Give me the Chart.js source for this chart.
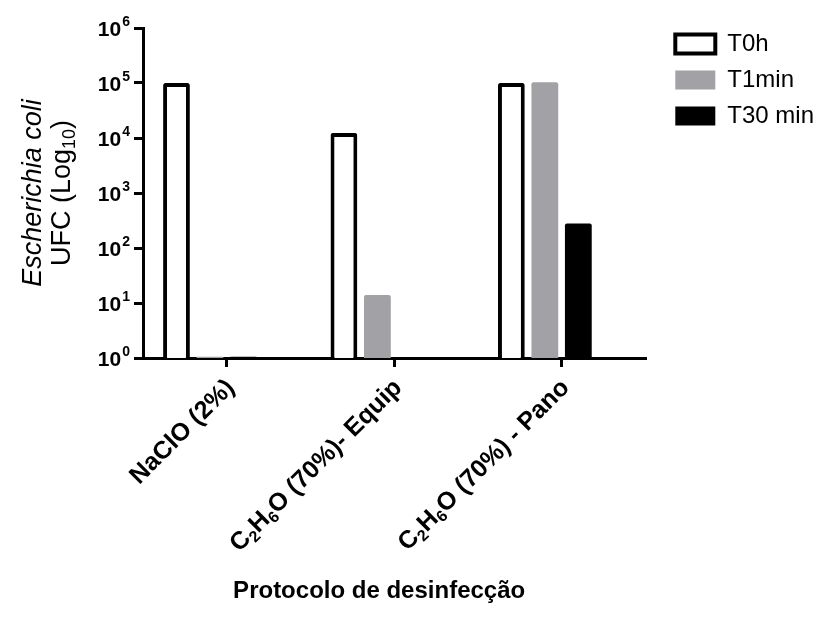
<!DOCTYPE html>
<html lang="pt">
<head>
  <meta charset="UTF-8">
  <title>Escherichia coli - Protocolo de desinfecção</title>
  <script src="https://cdn.jsdelivr.net/npm/chart.js"></script>
  <style>
    html, body { margin: 0; padding: 0; background: #fff; }
  </style>
</head>
<body>
  <canvas id="grafico" width="830" height="624"></canvas>

  <script>
    // dados (UFC)
    const protocolos = ['NaClO (2%)', 'C₂H₆O (70%)- Equip', 'C₂H₆O (70%) - Pano'];
    const t0h = [100000, 12300, 100000];
    const t1min = [1.05, 14, 103000];
    const t30min = [1.05, 1, 280];
    const vazio = [null, null, null]; // quarta coluna vazia, como no GraphPad
    const expoentes = [0, 1, 2, 3, 4, 5, 6];
    const tituloX = 'Protocolo de desinfecção';

    const fonte = '"Liberation Sans", Arial, sans-serif';
    const cinza = '#a2a2a6';
    const indices = '₀₁₂₃₄₅₆₇₈₉';

    // separa o texto em partes normais e subscritas
    function partes(txt) {
      const out = [];
      for (const ch of txt) {
        const k = indices.indexOf(ch);
        const sub = k >= 0;
        const c = sub ? String(k) : ch;
        const last = out[out.length - 1];
        if (last && last.sub === sub) last.t += c;
        else out.push({ t: c, sub: sub });
      }
      return out;
    }

    const eixos = {
      id: 'eixos',
      afterDraw(chart) {
        const ctx = chart.ctx;
        const y = chart.scales.y;
        const x = chart.scales.x;
        ctx.save();
        ctx.fillStyle = '#000';

        // rótulos 10^n
        ctx.textBaseline = 'alphabetic';
        ctx.textAlign = 'right';
        expoentes.forEach(e => {
          const py = y.getPixelForValue(Math.pow(10, e));
          const xr = y.right - 13;
          ctx.font = 'bold 14px ' + fonte;
          const w = ctx.measureText(String(e)).width;
          ctx.fillText(String(e), xr, py - 2);
          ctx.font = 'bold 21px ' + fonte;
          ctx.fillText('10', xr - w - 1, py + 8);
        });

        // título do eixo x
        ctx.textAlign = 'center';
        ctx.font = 'bold 24px ' + fonte;
        ctx.fillText(tituloX, (x.left + x.right) / 2 - 15, 598);

        // rótulos das categorias, 45 graus
        ctx.textAlign = 'left';
        ctx.textBaseline = 'middle';
        protocolos.forEach((txt, i) => {
          const ps = partes(txt);
          let total = 0;
          ps.forEach(p => {
            ctx.font = 'bold ' + (p.sub ? 16 : 25) + 'px ' + fonte;
            p.w = ctx.measureText(p.t).width;
            total += p.w;
          });
          ctx.save();
          ctx.translate(x.getPixelForTick(i) + 4, x.top + 26);
          ctx.rotate(-Math.PI / 4);
          let cx = -total;
          ps.forEach(p => {
            ctx.font = 'bold ' + (p.sub ? 16 : 25) + 'px ' + fonte;
            ctx.fillText(p.t, cx, p.sub ? 7 : 0);
            cx += p.w;
          });
          ctx.restore();
        });

        // título do eixo y
        const yc = (chart.chartArea.top + chart.chartArea.bottom) / 2;
        ctx.translate(0, yc);
        ctx.rotate(-Math.PI / 2);
        ctx.font = 'italic 27px ' + fonte;
        const l1 = 'Escherichia coli';
        ctx.fillText(l1, -ctx.measureText(l1).width / 2, 33);

        const a = 'UFC (Log', b = '10', c = ')';
        ctx.font = '27px ' + fonte;
        const wa = ctx.measureText(a).width, wc = ctx.measureText(c).width;
        ctx.font = '18px ' + fonte;
        const wb = ctx.measureText(b).width;
        const x0 = -(wa + wb + wc) / 2;
        ctx.font = '27px ' + fonte;
        ctx.fillText(a, x0, 63);
        ctx.font = '18px ' + fonte;
        ctx.fillText(b, x0 + wa, 70);
        ctx.font = '27px ' + fonte;
        ctx.fillText(c, x0 + wa + wb, 63);
        ctx.restore();
      },
      afterLayout(chart) {
        const lg = chart.legend;
        lg.left += 18; lg.right += 18;
        lg.top -= 8; lg.bottom -= 8;
      }
    };

    const grafico = new Chart(document.getElementById('grafico'), {
      type: 'bar',
      data: {
        labels: protocolos,
        datasets: [
          { label: 'T0h', data: t0h, backgroundColor: '#fff', borderColor: '#000', borderWidth: 4, borderRadius: 2 },
          { label: 'T1min', data: t1min, backgroundColor: cinza, borderColor: cinza, borderWidth: 0, borderRadius: 2 },
          { label: 'T30 min', data: t30min, backgroundColor: '#000', borderColor: '#000', borderWidth: 0, borderRadius: 2 },
          { label: '', data: vazio }
        ]
      },
      options: {
        responsive: false,
        animation: false,
        categoryPercentage: 0.8,
        barPercentage: 0.8,
        layout: { padding: { top: 28, left: 0, right: 24, bottom: 20 } },
        plugins: {
          tooltip: { enabled: false },
          legend: {
            position: 'right',
            align: 'start',
            labels: {
              filter: item => item.text !== '',
              boxWidth: 40,
              boxHeight: 19,
              padding: 12,
              color: '#000',
              font: { family: fonte, size: 24 }
            }
          }
        },
        scales: {
          x: {
            grid: { offset: false, drawOnChartArea: false, tickLength: 9, color: '#000', lineWidth: 3 },
            border: { color: '#000', width: 3 },
            ticks: { display: false },
            afterFit: s => { s.height = 624 - 358 - 20; }
          },
          y: {
            type: 'logarithmic',
            min: 1,
            max: 1000000,
            afterBuildTicks: s => { s.ticks = expoentes.map(e => ({ value: Math.pow(10, e) })); },
            ticks: { display: false },
            grid: { drawOnChartArea: false, tickLength: 9, color: '#000', lineWidth: 3 },
            border: { color: '#000', width: 3 },
            afterFit: s => { s.width = 143; }
          }
        }
      },
      plugins: [eixos]
    });
  </script>
</body>
</html>
